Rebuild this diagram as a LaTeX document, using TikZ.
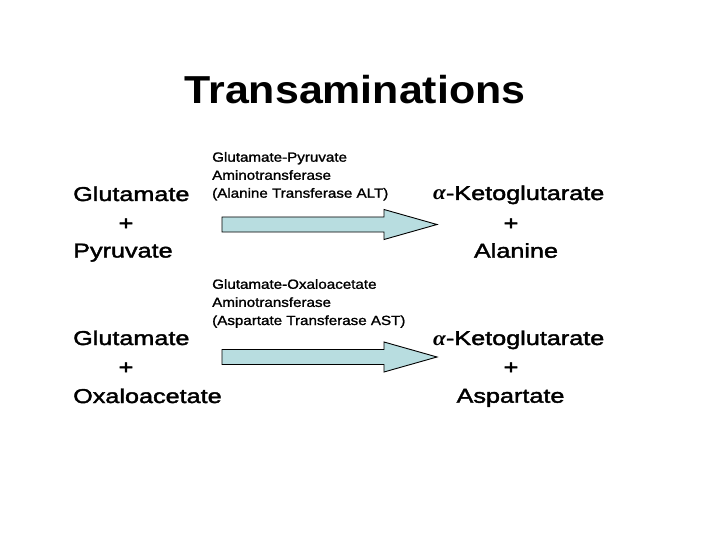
\documentclass[tikz,border=0pt]{standalone}
\usepackage{fontspec}
\setmainfont{Liberation Sans}
\newfontfamily\titlefont[FakeStretch=1.1]{Liberation Sans Bold}
\newfontfamily\labfont[FakeStretch=1.26,FakeBold=2]{Liberation Sans}
\newfontfamily\smallfont[FakeStretch=1.14,FakeBold=1.3]{Liberation Sans}
\newfontfamily\alphafont[FakeStretch=1.1]{Liberation Serif Bold Italic}
\newcommand{\alphachar}{{\alphafont\fontsize{21}{24}\selectfont α}}
\definecolor{arrowblue}{RGB}{184,221,224}
\begin{document}
\begin{tikzpicture}[x=1pt,y=-1pt,
  title/.style={font=\titlefont\fontsize{39}{44}\selectfont,inner sep=0pt,anchor=base},
  chem/.style={font=\labfont\fontsize{20}{24}\selectfont,inner sep=0pt},
  enzyme/.style={font=\smallfont\fontsize{13.3}{16}\selectfont,inner sep=0pt,anchor=base west},
  blockarrow/.style={draw=black,line width=0.9pt,fill=arrowblue,line join=miter}]
\useasboundingbox (0,0) rectangle (720,540);
\fill[white] (0,0) rectangle (720,540);

\node[title] (title) at (355,104) {Transaminations};

% first reaction
\node[chem,anchor=base west] (glu1) at (73,201) {Glutamate};
\node[chem,anchor=base] (plus1) at (126,230) {+};
\node[chem,anchor=base west] (pyr) at (73,257.5) {Pyruvate};

\node[enzyme] (e1a) at (212,161.7) {Glutamate-Pyruvate};
\node[enzyme] (e1b) at (212,179.8) {Aminotransferase};
\node[enzyme] (e1c) at (212,197.7) {(Alanine Transferase ALT)};

\node[chem,anchor=base west] (akg1) at (433,200) {\alphachar-Ketoglutarate};
\node[chem,anchor=base] (plus2) at (511,230) {+};
\node[chem,anchor=base] (ala) at (516,257.7) {Alanine};

\coordinate (a1) at (222,224.5);
\draw[blockarrow] (a1) ++(0,-7.5) -- ++(162,0) -- ++(0,-7.5) -- ++(53,15) -- ++(-53,15) -- ++(0,-7.5) -- ++(-162,0) -- cycle;

% second reaction
\node[chem,anchor=base west] (glu2) at (73,345) {Glutamate};
\node[chem,anchor=base] (plus3) at (126,374) {+};
\node[chem,anchor=base west] (oaa) at (73,403) {Oxaloacetate};

\node[enzyme] (e2a) at (212,288.8) {Glutamate-Oxaloacetate};
\node[enzyme] (e2b) at (212,306.9) {Aminotransferase};
\node[enzyme] (e2c) at (212,325) {(Aspartate Transferase AST)};

\node[chem,anchor=base west] (akg2) at (433,345) {\alphachar-Ketoglutarate};
\node[chem,anchor=base] (plus4) at (511,374) {+};
\node[chem,anchor=base] (asp) at (510.5,402.7) {Aspartate};

\coordinate (a2) at (222,357);
\draw[blockarrow] (a2) ++(0,-7.5) -- ++(162,0) -- ++(0,-7.5) -- ++(53,15) -- ++(-53,15) -- ++(0,-7.5) -- ++(-162,0) -- cycle;
\end{tikzpicture}
\end{document}
